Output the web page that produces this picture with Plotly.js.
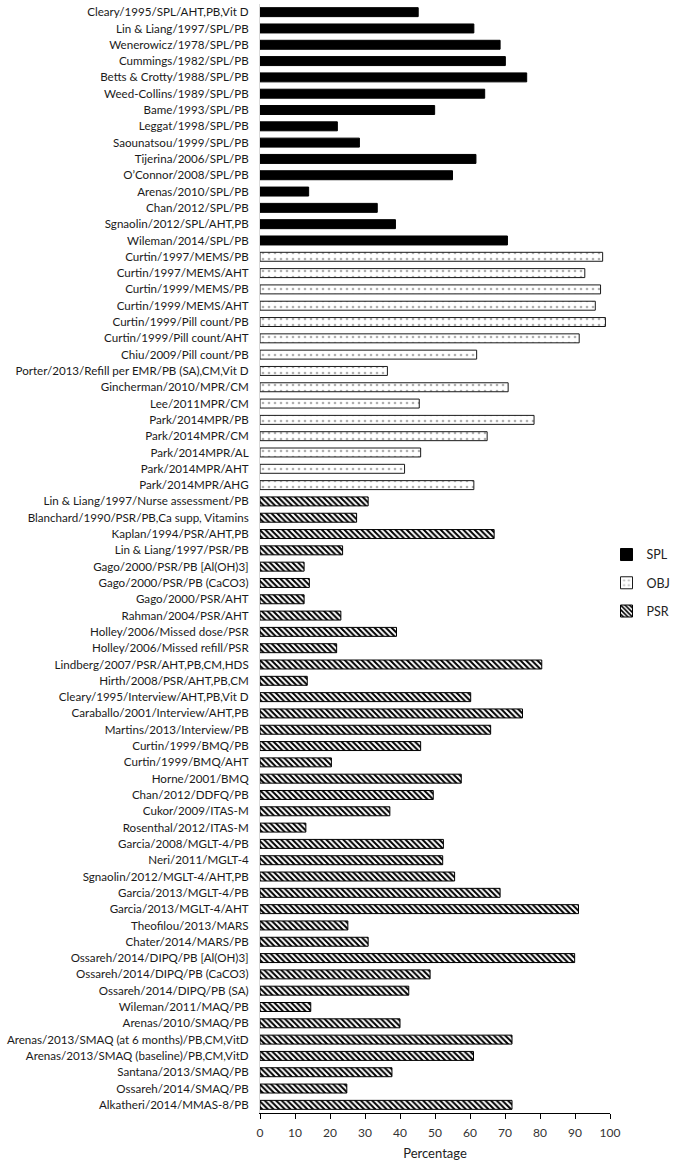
<!DOCTYPE html>
<html>
<head>
<meta charset="utf-8">
<script src="https://cdn.plot.ly/plotly-3.0.1.min.js"></script>
<style>html,body{margin:0;padding:0;background:#fff;}#chart{width:684px;height:1165px;}</style>
</head>
<body>
<div id="chart"></div>
<script>
const splLabels = [
  "Cleary/1995/SPL/AHT,PB,Vit D",
  "Lin & Liang/1997/SPL/PB",
  "Wenerowicz/1978/SPL/PB",
  "Cummings/1982/SPL/PB",
  "Betts & Crotty/1988/SPL/PB",
  "Weed-Collins/1989/SPL/PB",
  "Bame/1993/SPL/PB",
  "Leggat/1998/SPL/PB",
  "Saounatsou/1999/SPL/PB",
  "Tijerina/2006/SPL/PB",
  "O\u2019Connor/2008/SPL/PB",
  "Arenas/2010/SPL/PB",
  "Chan/2012/SPL/PB",
  "Sgnaolin/2012/SPL/AHT,PB",
  "Wileman/2014/SPL/PB"
];
const splValues = [45.2, 61.1, 68.6, 70.1, 76.2, 64.2, 49.9, 22.1, 28.4, 61.7, 55.0, 13.9, 33.5, 38.7, 70.7];

const objLabels = [
  "Curtin/1997/MEMS/PB",
  "Curtin/1997/MEMS/AHT",
  "Curtin/1999/MEMS/PB",
  "Curtin/1999/MEMS/AHT",
  "Curtin/1999/Pill count/PB",
  "Curtin/1999/Pill count/AHT",
  "Chiu/2009/Pill count/PB",
  "Porter/2013/Refill per EMR/PB (SA),CM,Vit D",
  "Gincherman/2010/MPR/CM",
  "Lee/2011MPR/CM",
  "Park/2014MPR/PB",
  "Park/2014MPR/CM",
  "Park/2014MPR/AL",
  "Park/2014MPR/AHT",
  "Park/2014MPR/AHG"
];
const objValues = [97.9, 92.8, 97.3, 95.8, 98.7, 91.2, 61.9, 36.4, 70.9, 45.5, 78.3, 64.9, 45.9, 41.3, 61.1];

const psrLabels = [
  "Lin & Liang/1997/Nurse assessment/PB",
  "Blanchard/1990/PSR/PB,Ca supp, Vitamins",
  "Kaplan/1994/PSR/AHT,PB",
  "Lin & Liang/1997/PSR/PB",
  "Gago/2000/PSR/PB [Al(OH)3]",
  "Gago/2000/PSR/PB (CaCO3)",
  "Gago/2000/PSR/AHT",
  "Rahman/2004/PSR/AHT",
  "Holley/2006/Missed dose/PSR",
  "Holley/2006/Missed refill/PSR",
  "Lindberg/2007/PSR/AHT,PB,CM,HDS",
  "Hirth/2008/PSR/AHT,PB,CM",
  "Cleary/1995/Interview/AHT,PB,Vit D",
  "Caraballo/2001/Interview/AHT,PB",
  "Martins/2013/Interview/PB",
  "Curtin/1999/BMQ/PB",
  "Curtin/1999/BMQ/AHT",
  "Horne/2001/BMQ",
  "Chan/2012/DDFQ/PB",
  "Cukor/2009/ITAS-M",
  "Rosenthal/2012/ITAS-M",
  "Garcia/2008/MGLT-4/PB",
  "Neri/2011/MGLT-4",
  "Sgnaolin/2012/MGLT-4/AHT,PB",
  "Garcia/2013/MGLT-4/PB",
  "Garcia/2013/MGLT-4/AHT",
  "Theofilou/2013/MARS",
  "Chater/2014/MARS/PB",
  "Ossareh/2014/DIPQ/PB [Al(OH)3]",
  "Ossareh/2014/DIPQ/PB (CaCO3)",
  "Ossareh/2014/DIPQ/PB (SA)",
  "Wileman/2011/MAQ/PB",
  "Arenas/2010/SMAQ/PB",
  "Arenas/2013/SMAQ (at 6 months)/PB,CM,VitD",
  "Arenas/2013/SMAQ (baseline)/PB,CM,VitD",
  "Santana/2013/SMAQ/PB",
  "Ossareh/2014/SMAQ/PB",
  "Alkatheri/2014/MMAS-8/PB"
];
const psrValues = [30.9, 27.6, 66.9, 23.6, 12.6, 14.1, 12.6, 23.1, 39.0, 21.9, 80.5, 13.5, 60.2, 75.0, 65.9, 45.9, 20.4, 57.5, 49.5, 37.1, 13.1, 52.4, 52.2, 55.6, 68.6, 91.0, 25.1, 30.9, 89.9, 48.6, 42.5, 14.5, 40.0, 72.0, 61.0, 37.7, 24.8, 72.0];

const seriesNames = ["SPL", "OBJ", "PSR"];
const xTicks = [0, 10, 20, 30, 40, 50, 60, 70, 80, 90, 100];
const xTitle = "Percentage";

const allLabels = splLabels.concat(objLabels, psrLabels);

const traces = [
  {
    type: "bar", orientation: "h", name: seriesNames[0], legendgroup: "a",
    x: splValues, y: splLabels,
    marker: {color: "#000000", line: {color: "#000000", width: 1}}
  },
  {
    type: "bar", orientation: "h", name: seriesNames[1], legendgroup: "b",
    x: objValues, y: objLabels,
    marker: {color: "#ffffff", line: {color: "#1a1a1a", width: 1},
      pattern: {shape: ".", fgcolor: "#b0b0b0", bgcolor: "#ffffff", size: 6, solidity: 0.15}}
  },
  {
    type: "bar", orientation: "h", name: seriesNames[2], legendgroup: "c",
    x: psrValues, y: psrLabels,
    marker: {color: "#ffffff", line: {color: "#000000", width: 1},
      pattern: {shape: "\\", fgcolor: "#000000", bgcolor: "#ffffff", size: 4, solidity: 0.5}}
  }
];

const layout = {
  width: 684, height: 1165,
  margin: {l: 260, r: 74, t: 4, b: 52},
  paper_bgcolor: "#ffffff", plot_bgcolor: "#ffffff",
  font: {family: "Lato, 'Open Sans', sans-serif", size: 12, color: "#333333"},
  barmode: "overlay",
  bargap: 0.45,
  showlegend: true,
  legend: {
    x: 0.99, xanchor: "left", y: 0.478, yanchor: "middle",
    traceorder: "grouped", tracegroupgap: 9,
    font: {size: 12.5, color: "#222222"},
    bgcolor: "rgba(0,0,0,0)", borderwidth: 0
  },
  xaxis: {
    range: [0, 100], tickmode: "array", tickvals: xTicks, ticktext: xTicks.map(String),
    showgrid: false, zeroline: false,
    showline: true, linecolor: "#000000", linewidth: 1,
    ticks: "outside", ticklen: 5, tickcolor: "#000000",
    ticklabelstandoff: 4,
    tickfont: {size: 12, color: "#333333"},
    title: {text: xTitle, font: {size: 13, color: "#222222"}, standoff: 9}
  },
  yaxis: {
    type: "category", categoryorder: "array", categoryarray: allLabels,
    autorange: "reversed",
    tickmode: "array", tickvals: allLabels, ticktext: allLabels,
    showgrid: false, zeroline: false,
    showline: true, linecolor: "#d9d9d9", linewidth: 1,
    ticks: "", ticklabelstandoff: 8,
    tickfont: {size: 11.6, color: "#1a1a1a"}
  }
};

Plotly.newPlot("chart", traces, layout, {displayModeBar: false, staticPlot: true});
</script>
</body>
</html>
